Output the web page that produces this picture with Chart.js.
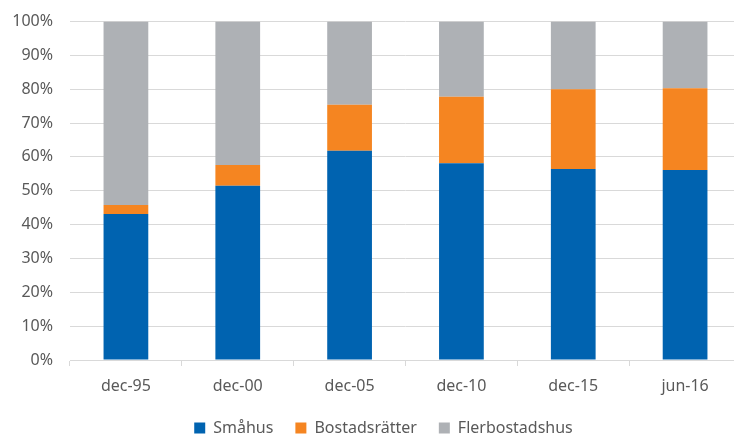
<!DOCTYPE html>
<html>
<head>
<meta charset="utf-8">
<script src="https://cdn.jsdelivr.net/npm/chart.js@4/dist/chart.umd.min.js"></script>
<style>
    html, body { margin: 0; padding: 0; background: #fff; overflow: hidden; }
    #wrap { width: 767px; height: 446px; }
</style>
</head>
<body>
<div id="wrap"><canvas id="fordelning"></canvas></div>
<script>
var categories = ['dec-95', 'dec-00', 'dec-05', 'dec-10', 'dec-15', 'jun-16'];
var smahus = [43.1, 51.5, 61.8, 58.1, 56.4, 56.1];
var bostadsratter = [2.7, 6.1, 13.6, 19.7, 23.6, 24.2];
var flerbostadshus = [54.2, 42.4, 24.6, 22.2, 20.0, 19.7];

var textColor = '#595959';
var gridColor = '#D9D9D9';
var fontFamily = "'Noto Sans', 'Open Sans', sans-serif";

var element = document.getElementById('fordelning');

var data = {
    labels: categories,
    datasets: [{
        label: 'Småhus',
        data: smahus,
        backgroundColor: '#0063B0'
    }, {
        label: 'Bostadsrätter',
        data: bostadsratter,
        backgroundColor: '#F58521'
    }, {
        label: 'Flerbostadshus',
        data: flerbostadshus,
        backgroundColor: '#AEB1B5'
    }]
};

var chart = new Chart(element, {
    type: 'bar',
    data: data,
    options: {
        responsive: true,
        maintainAspectRatio: false,
        animation: false,
        datasets: {
            bar: {
                categoryPercentage: 1,
                barPercentage: 0.4
            }
        },
        layout: {
            padding: { top: 21.5, left: 0, right: 0, bottom: 0 }
        },
        plugins: {
            tooltip: { enabled: false },
            legend: {
                position: 'bottom',
                labels: {
                    boxWidth: 11,
                    boxHeight: 11,
                    padding: 22,
                    color: textColor,
                    font: { family: fontFamily, size: 16 }
                }
            }
        },
        scales: {
            x: {
                stacked: true,
                grid: {
                    display: true,
                    drawOnChartArea: false,
                    tickLength: 6,
                    color: gridColor
                },
                border: { color: gridColor },
                ticks: {
                    color: textColor,
                    padding: 11,
                    maxRotation: 0,
                    font: { family: fontFamily, size: 16 }
                },
                afterFit: function(scale) {
                    scale.height = 38;
                }
            },
            y: {
                stacked: true,
                min: 0,
                max: 100,
                grid: {
                    color: gridColor,
                    drawTicks: false
                },
                border: { display: false },
                ticks: {
                    stepSize: 10,
                    padding: 17,
                    color: textColor,
                    font: { family: fontFamily, size: 16 },
                    callback: function(value) {
                        return value + '%';
                    }
                },
                afterFit: function(scale) {
                    scale.width = 70;
                    // tick padding would otherwise push the plot top down
                    scale.paddingTop = 0;
                    scale.paddingBottom = 0;
                }
            },
            // empty strip on the right so the legend stays centred on the page
            spacer: {
                type: 'linear',
                position: 'right',
                grid: { display: false },
                border: { display: false },
                ticks: { display: false },
                afterFit: function(scale) {
                    scale.width = 26;
                }
            }
        }
    }
});
</script>
</body>
</html>
